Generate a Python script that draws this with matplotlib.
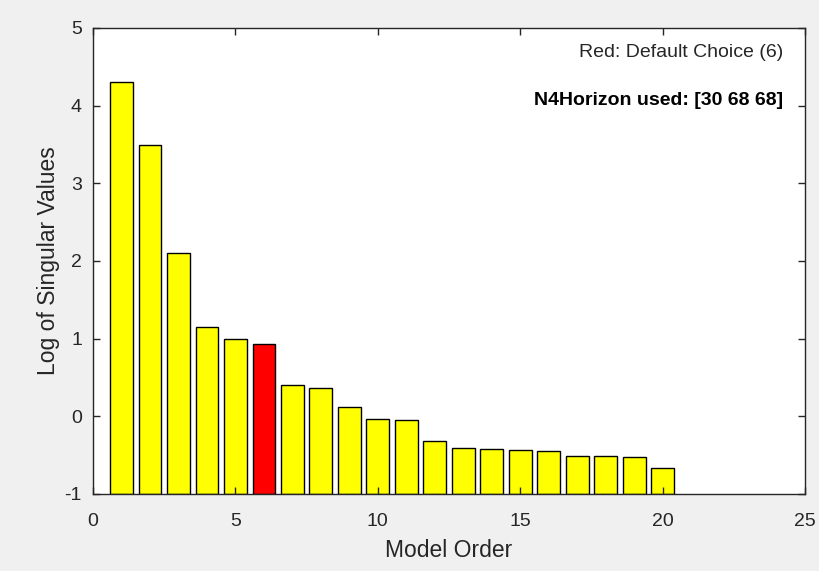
import numpy as np
import matplotlib.pyplot as plt

plt.rcParams['font.family'] = ['Liberation Sans', 'DejaVu Sans']
plt.rcParams['axes.unicode_minus'] = False

# model orders and log singular values
orders = np.arange(1, 21)
log_sv = [4.31, 3.49, 2.10, 1.15, 0.99, 0.93, 0.40, 0.37, 0.12, -0.03,
          -0.05, -0.32, -0.41, -0.42, -0.43, -0.45, -0.51, -0.51, -0.53, -0.66]
default_order = 6
baseline = -1

fig = plt.figure(figsize=(8.19, 5.71), dpi=100, facecolor='#f0f0f0')
ax = fig.add_axes([0.1136, 0.135, 0.8694, 0.816])

colors = ['red' if o == default_order else 'yellow' for o in orders]
heights = np.array(log_sv) - baseline
ax.bar(orders, heights, bottom=baseline, width=0.8, color=colors,
       edgecolor='black', linewidth=1.0)

ax.set_xlim(0, 25)
ax.set_ylim(-1, 5)
ax.set_xticks(range(0, 26, 5))
ax.set_yticks(range(-1, 6))

dark = '#262626'
for s in ax.spines.values():
    s.set_color(dark)
    s.set_linewidth(1.0)
ax.tick_params(direction='in', top=True, right=True, length=5, width=1,
               colors=dark, labelsize=14)
ax.tick_params(axis='x', pad=14)
ax.tick_params(axis='y', pad=8)

ax.set_xlabel('Model Order', fontsize=16.5, color=dark, labelpad=6)
ax.set_ylabel('Log of Singular Values', fontsize=16.5, color=dark, labelpad=3)

ax.text(0.969, 0.948, 'Red: Default Choice (6)', transform=ax.transAxes,
        ha='right', va='center', fontsize=14, color=dark)
ax.text(0.969, 0.845, 'N4Horizon used: [30 68 68]', transform=ax.transAxes,
        ha='right', va='center', fontsize=14, fontweight='bold', color='black')

fig.savefig('out.png', dpi=100, facecolor=fig.get_facecolor())
